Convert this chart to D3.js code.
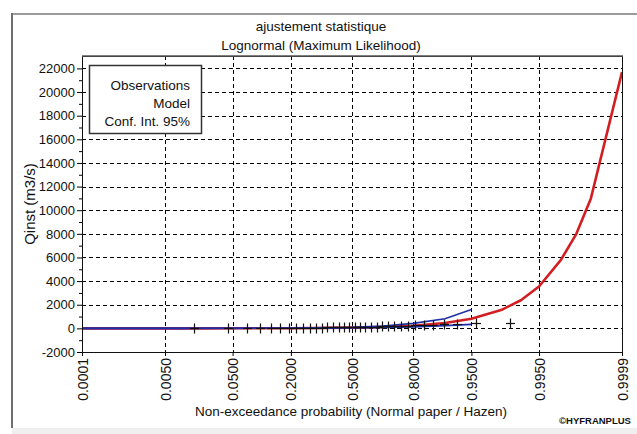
<!DOCTYPE html>
<html>
<head>
<meta charset="utf-8">
<script src="https://cdn.jsdelivr.net/npm/d3@7"></script>
<style>
  html, body { margin: 0; padding: 0; background: #ffffff; }
  svg { display: block; }
  text { font-family: "Liberation Sans", Arial, sans-serif; fill: #111; }
</style>
</head>
<body>
<svg id="chart" width="637" height="434"></svg>
<script>
// ---- data -------------------------------------------------------------
// Probability tick positions on the normal-probability axis
const xTickProbs  = [0.0001, 0.005, 0.05, 0.2, 0.5, 0.8, 0.95, 0.995, 0.9999];
const xTickLabels = ["0.0001", "0.0050", "0.0500", "0.2000", "0.5000", "0.8000", "0.9500", "0.9950", "0.9999"];
const yTicks      = [-2000, 0, 2000, 4000, 6000, 8000, 10000, 12000, 14000, 16000, 18000, 20000, 22000];

// Fitted lognormal quantiles (non-exceedance probability -> Qinst)
const modelProb  = [0.0001, 0.0005, 0.001, 0.005, 0.01, 0.02, 0.05, 0.1, 0.2, 0.3, 0.5, 0.6667, 0.8, 0.9, 0.95, 0.98, 0.99, 0.995, 0.998, 0.999, 0.9995, 0.9999];
const modelQ     = [0.2, 0.3, 0.4, 1, 1.5, 2.3, 4.4, 7.8, 16, 26, 59, 118, 226, 454, 808, 1550, 2380, 3540, 5800, 8000, 11000, 21700];

// 95% confidence band (drawn up to p = 0.95)
const ciProb     = [0.0001, 0.0005, 0.001, 0.005, 0.01, 0.02, 0.05, 0.1, 0.2, 0.3, 0.5, 0.6667, 0.8, 0.9, 0.95];
const ciLower    = [0.05, 0.1, 0.15, 0.4, 0.7, 1.1, 2.3, 4.2, 9, 15, 38, 72, 130, 235, 340];
const ciUpper    = [0.6, 1, 1.2, 2.5, 3.5, 5, 8.5, 14, 27, 44, 95, 200, 420, 820, 1600];

// Observed flows, sorted, with Hazen plotting positions (i - 0.5) / 34
const obsProb = [0.0147, 0.0441, 0.0735, 0.1029, 0.1324, 0.1618, 0.1912, 0.2206, 0.2500, 0.2794,
                 0.3088, 0.3382, 0.3676, 0.3971, 0.4265, 0.4559, 0.4853, 0.5147, 0.5441, 0.5735,
                 0.6029, 0.6324, 0.6618, 0.6912, 0.7206, 0.7500, 0.7794, 0.8088, 0.8382, 0.8676,
                 0.8971, 0.9265, 0.9559, 0.9853];
const obsQ    = [10, 18, 24, 30, 35, 40, 45, 50, 55, 60,
                 66, 72, 78, 85, 92, 100, 108, 116, 125, 134,
                 144, 155, 168, 182, 198, 215, 235, 258, 285, 315,
                 345, 390, 430, 440];

// ---- helpers ----------------------------------------------------------
// Inverse standard normal CDF (Acklam's rational approximation)
function probit(p) {
  const a = [-39.69683028665376, 220.9460984245205, -275.9285104469687, 138.3577518672690, -30.66479806614716, 2.506628277459239];
  const b = [-54.47609879822406, 161.5858368580409, -155.6989798598866, 66.80131188771972, -13.28068155288572];
  const c = [-0.007784894002430293, -0.3223964580411365, -2.400758277161838, -2.549732539343734, 4.374664141464968, 2.938163982698783];
  const d = [0.007784695709041462, 0.3224671290700398, 2.445134137142996, 3.754408661907416];
  const pl = 0.02425, ph = 1 - pl;
  let q, r;
  if (p < pl) {
    q = Math.sqrt(-2 * Math.log(p));
    return (((((c[0]*q+c[1])*q+c[2])*q+c[3])*q+c[4])*q+c[5]) / ((((d[0]*q+d[1])*q+d[2])*q+d[3])*q+1);
  } else if (p <= ph) {
    q = p - 0.5; r = q * q;
    return (((((a[0]*r+a[1])*r+a[2])*r+a[3])*r+a[4])*r+a[5])*q / (((((b[0]*r+b[1])*r+b[2])*r+b[3])*r+b[4])*r+1);
  } else {
    q = Math.sqrt(-2 * Math.log(1 - p));
    return -(((((c[0]*q+c[1])*q+c[2])*q+c[3])*q+c[4])*q+c[5]) / ((((d[0]*q+d[1])*q+d[2])*q+d[3])*q+1);
  }
}

// ---- layout -----------------------------------------------------------
const svg = d3.select("#chart");
const W = 637, H = 434;
const plot = { left: 82, right: 622, top: 56, bottom: 352 };

const zScale = d3.scaleLinear()
  .domain([probit(0.0001), probit(0.9999)])
  .range([plot.left, plot.right]);
const x = p => zScale(probit(p));
const y = d3.scaleLinear().domain([-2000, 23050]).range([plot.bottom, plot.top]);

// window frame
svg.append("rect").attr("x", 0).attr("y", 0).attr("width", W).attr("height", H).attr("fill", "#ffffff");
svg.append("rect").attr("x", 12).attr("y", 428).attr("width", W - 12).attr("height", H - 428).attr("fill", "#efefef");
svg.append("line").attr("x1", 12).attr("x2", W).attr("y1", 14).attr("y2", 14)
  .attr("stroke", "#9c9c9c").attr("stroke-width", 2);
svg.append("line").attr("x1", 12).attr("x2", 12).attr("y1", 13).attr("y2", 428)
  .attr("stroke", "#707070").attr("stroke-width", 2);

// titles
svg.append("text").attr("x", 321).attr("y", 31).attr("text-anchor", "middle")
  .style("font-size", "13.5px").text("ajustement statistique");
svg.append("text").attr("x", 321).attr("y", 50).attr("text-anchor", "middle")
  .style("font-size", "13.5px").text("Lognormal (Maximum Likelihood)");

// grid
const grid = svg.append("g").attr("stroke", "#000").attr("stroke-width", 1)
  .attr("stroke-dasharray", "4,3").attr("shape-rendering", "crispEdges");
grid.selectAll("line.h").data(yTicks.filter(v => v > -2000)).join("line")
  .attr("x1", plot.left).attr("x2", plot.right)
  .attr("y1", d => Math.round(y(d)) + 0.5).attr("y2", d => Math.round(y(d)) + 0.5);
grid.selectAll("line.v").data(xTickProbs.slice(1, -1)).join("line")
  .attr("x1", d => Math.round(x(d)) + 0.5).attr("x2", d => Math.round(x(d)) + 0.5)
  .attr("y1", plot.top).attr("y2", plot.bottom);

// y axis
const yAxis = d3.axisLeft(y).tickValues(yTicks).tickFormat(d => String(d)).tickSize(5).tickPadding(2);
const gy = svg.append("g").attr("transform", `translate(${plot.left},0)`).call(yAxis);
gy.select(".domain").remove();
gy.selectAll("text").style("font-size", "13px").attr("fill", "#111");
// minor ticks every 1000
const yMinor = d3.axisLeft(y).tickValues(d3.range(-1000, 23000, 2000)).tickFormat("").tickSize(3);
const gym = svg.append("g").attr("transform", `translate(${plot.left},0)`).call(yMinor);
gym.select(".domain").remove();

// x axis
const xAxis = d3.axisBottom(zScale).tickValues(xTickProbs.map(probit))
  .tickFormat((d, i) => xTickLabels[i]).tickSize(4);
const gx = svg.append("g").attr("transform", `translate(0,${plot.bottom})`).call(xAxis);
gx.select(".domain").remove();
gx.selectAll("text")
  .style("font-size", "14px").attr("fill", "#111")
  .attr("text-anchor", "end")
  .attr("transform", "rotate(-90)")
  .attr("x", -6).attr("y", 0).attr("dy", "0.36em");

// axis titles
svg.append("text").attr("transform", `translate(35,${(plot.top + plot.bottom) / 2}) rotate(-90)`)
  .attr("text-anchor", "middle").style("font-size", "15px").text("Qinst (m3/s)");
svg.append("text").attr("x", 351).attr("y", 416).attr("text-anchor", "middle")
  .style("font-size", "13.5px").text("Non-exceedance probability (Normal paper / Hazen)");
svg.append("text").attr("x", 595).attr("y", 424).attr("text-anchor", "middle")
  .style("font-size", "9.5px").style("font-weight", "bold").text("\u00A9HYFRANPLUS");

// series
const clip = svg.append("clipPath").attr("id", "plotClip").append("rect")
  .attr("x", plot.left).attr("y", plot.top).attr("width", plot.right - plot.left).attr("height", plot.bottom - plot.top);
const series = svg.append("g").attr("clip-path", "url(#plotClip)");

const line = d3.line().x(d => x(d[0])).y(d => y(d[1]));
series.append("path").datum(d3.zip(modelProb, modelQ)).attr("d", line)
  .attr("fill", "none").attr("stroke", "#d21e22").attr("stroke-width", 2.6).attr("stroke-linejoin", "round");
[ciLower, ciUpper].forEach(vals => {
  series.append("path").datum(d3.zip(ciProb, vals)).attr("d", line)
    .attr("fill", "none").attr("stroke", "#1f2fa8").attr("stroke-width", 1.6);
});

// observations as "+" markers
const obs = series.selectAll("g.obs").data(d3.zip(obsProb, obsQ)).join("g")
  .attr("transform", d => `translate(${Math.round(x(d[0])) + 0.5},${Math.round(y(d[1])) + 0.5})`)
  .attr("stroke", "#111").attr("stroke-width", 1.2);
obs.append("line").attr("x1", -4.5).attr("x2", 4.5).attr("y1", 0).attr("y2", 0);
obs.append("line").attr("x1", 0).attr("x2", 0).attr("y1", -5).attr("y2", 5);

// plot frame
svg.append("rect").attr("x", plot.left + 0.5).attr("y", plot.top + 0.5)
  .attr("width", plot.right - plot.left).attr("height", plot.bottom - plot.top)
  .attr("fill", "none").attr("stroke", "#111").attr("stroke-width", 1).attr("shape-rendering", "crispEdges");
svg.append("line").attr("x1", plot.left).attr("x2", plot.right + 1).attr("y1", plot.top).attr("y2", plot.top)
  .attr("stroke", "#555").attr("stroke-width", 1.5);

// legend
const lg = svg.append("g");
lg.append("rect").attr("x", 89.5).attr("y", 65.5).attr("width", 112).attr("height", 68)
  .attr("fill", "#fff").attr("stroke", "#333").attr("stroke-width", 1.5);
const legendLabels = ["Observations", "Model", "Conf. Int. 95%"];
lg.selectAll("text").data(legendLabels).join("text")
  .attr("x", 190).attr("y", (d, i) => 90 + i * 18).attr("text-anchor", "end")
  .style("font-size", "13.5px").text(d => d);
</script>
</body>
</html>
